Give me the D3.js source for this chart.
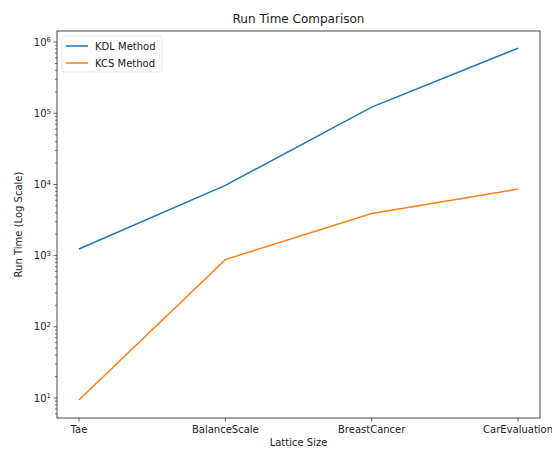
<!DOCTYPE html>
<html>
<head>
<meta charset="utf-8">
<script src="https://cdn.jsdelivr.net/npm/d3@7"></script>
<style>
  body { margin: 0; background: #fff; }
  svg { font-family: "DejaVu Sans", sans-serif; }
</style>
</head>
<body>
<svg id="chart" width="552" height="450"></svg>
<script>

var categories = ["Tae", "BalanceScale", "BreastCancer", "CarEvaluation"];
var kdlTimes = [1240, 9700, 122000, 820000];
var kcsTimes = [9.4, 880, 3900, 8600];
var seriesNames = ["KDL Method", "KCS Method"];
var seriesColors = ["#1f77b4", "#ff7f0e"];
var yTicks = [1e1, 1e2, 1e3, 1e4, 1e5, 1e6];

var margin = {top: 31, right: 12, bottom: 32, left: 57};
var svg = d3.select("#chart");
var width = 552 - margin.left - margin.right;
var height = 450 - margin.top - margin.bottom;

var g = svg.append("g")
  .attr("transform", "translate(" + margin.left + "," + margin.top + ")");

// category index scale, 5% padding like matplotlib
var x = d3.scaleLinear().domain([-0.15, categories.length - 1 + 0.15]).range([0, width]);
var y = d3.scaleLog().domain([5.24, 1.43e6]).range([height, 0]);

// minor ticks
var minor = [];
for (var e = 0; e <= 6; e++) {
  for (var m = 2; m <= 9; m++) {
    var v = m * Math.pow(10, e);
    if (v >= y.domain()[0] && v <= y.domain()[1]) minor.push(v);
  }
}
g.selectAll(".minor").data(minor).enter().append("line")
  .attr("x1", -2).attr("x2", 0)
  .attr("y1", function(d) { return y(d); })
  .attr("y2", function(d) { return y(d); })
  .attr("stroke", "#333").attr("stroke-width", 0.7);

// major y ticks
var yt = g.selectAll(".ytick").data(yTicks).enter().append("g")
  .attr("transform", function(d) { return "translate(0," + y(d) + ")"; });
yt.append("line").attr("x1", -3.5).attr("x2", 0).attr("stroke", "#333").attr("stroke-width", 0.8);
var lab = yt.append("text")
  .attr("x", -6).attr("dy", "0.35em")
  .attr("text-anchor", "end")
  .attr("font-size", 10).attr("fill", "#222");
lab.append("tspan").text("10");
lab.append("tspan").attr("dy", "-0.45em").attr("font-size", 7)
  .text(function(d) { return Math.round(Math.log10(d)); });

// x ticks
var xt = g.selectAll(".xtick").data(categories).enter().append("g")
  .attr("transform", function(d, i) { return "translate(" + x(i) + "," + height + ")"; });
xt.append("line").attr("y1", 0).attr("y2", 3.5).attr("stroke", "#333").attr("stroke-width", 0.8);
xt.append("text").attr("y", 15).attr("text-anchor", "middle")
  .attr("font-size", 10).attr("fill", "#222")
  .text(function(d) { return d; });

// lines
var line = d3.line()
  .x(function(d, i) { return x(i); })
  .y(function(d) { return y(d); });

[kdlTimes, kcsTimes].forEach(function(s, k) {
  g.append("path").datum(s)
    .attr("d", line)
    .attr("fill", "none")
    .attr("stroke", seriesColors[k])
    .attr("stroke-width", 1.5);
});

// frame
g.append("rect").attr("width", width).attr("height", height)
  .attr("fill", "none").attr("stroke", "#333").attr("stroke-width", 0.9);

// legend
var leg = g.append("g").attr("transform", "translate(5,5)");
leg.append("rect").attr("width", 100).attr("height", 36).attr("rx", 2)
  .attr("fill", "#fff").attr("stroke", "#ddd").attr("stroke-width", 0.8);
seriesNames.forEach(function(n, k) {
  var yy = 10 + k * 17;
  leg.append("line").attr("x1", 4).attr("x2", 26).attr("y1", yy).attr("y2", yy)
    .attr("stroke", seriesColors[k]).attr("stroke-width", 1.5);
  leg.append("text").attr("x", 33).attr("y", yy).attr("dy", "0.35em")
    .attr("font-size", 10).attr("fill", "#222").text(n);
});

// title and axis labels
svg.append("text").attr("x", margin.left + width / 2).attr("y", 23)
  .attr("text-anchor", "middle").attr("font-size", 12).attr("fill", "#222")
  .text("Run Time Comparison");
svg.append("text").attr("x", margin.left + width / 2).attr("y", 446)
  .attr("text-anchor", "middle").attr("font-size", 10).attr("fill", "#222")
  .text("Lattice Size");
svg.append("text")
  .attr("transform", "translate(22," + (margin.top + height / 2) + ") rotate(-90)")
  .attr("text-anchor", "middle").attr("font-size", 10).attr("fill", "#222")
  .text("Run Time (Log Scale)");

</script>
</body>
</html>
